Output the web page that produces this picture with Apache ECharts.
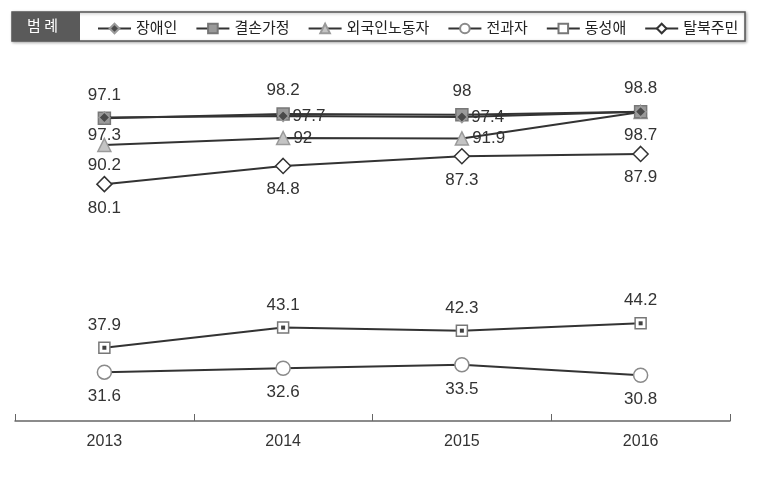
<!DOCTYPE html>
<html><head><meta charset="utf-8">
<script src="https://cdn.jsdelivr.net/npm/echarts@6/dist/echarts.min.js"></script>
<style>html,body{margin:0;padding:0;background:#fff}#c{width:762px;height:478px}</style>
</head><body><div id="c"></div>
<script>
const years = ['2013','2014','2015','2016'];
const seriesNames = ['장애인','결손가정','외국인노동자','전과자','동성애','탈북주민'];
const disabled = [97.3, 97.7, 97.4, 98.8];
const brokenFamily = [97.1, 98.2, 98.0, 98.8];
const foreignWorker = [90.2, 92.0, 91.9, 98.7];
const exConvict = [31.6, 32.6, 33.5, 30.8];
const homosexual = [37.9, 43.1, 42.3, 44.2];
const defector = [80.1, 84.8, 87.3, 87.9];

const values = [disabled, brokenFamily, foreignWorker, exConvict, homosexual, defector];
// label placement per point (style only)
const labelPos = [
  ['bottom','right','right',null],
  ['top','top','top','top'],
  ['bottom','right','right','bottom'],
  ['bottom','bottom','bottom','bottom'],
  ['top','top','top','top'],
  ['bottom','bottom','bottom','bottom']
];
const labelDist = [
  [3,3,3,0],[8,8,8,8],[5,3,3,8],[8,8,8,8],[8,8,8,8],[7,7,7,7]
];
const symbols = ['diamond','rect','triangle','circle','rect','diamond'];
const symbolSizes = [11,12,13,14,11,15];
const fills = ['#4a4a4a','#9a9a9a','#c4c4c4','#ffffff','#ffffff','#ffffff'];
const borders = ['#9a9a9a','#777777','#9a9a9a','#8a8a8a','#777777','#333333'];

const font = '"Liberation Sans", "Noto Sans CJK KR", sans-serif';
const lineSeries = seriesNames.map((name, i) => ({
  name: name,
  type: 'line',
  z: 10 - i,
  symbol: symbols[i],
  symbolSize: symbolSizes[i],
  lineStyle: {color: '#333', width: 2},
  itemStyle: {color: fills[i], borderColor: borders[i], borderWidth: 1.5},
  data: values[i].map((v, j) => ({
    value: v,
    label: labelPos[i][j] ? {show: true, position: labelPos[i][j], distance: labelDist[i][j]} : {show: false}
  })),
  label: {color: '#333', fontSize: 17, fontFamily: font},
  emphasis: {disabled: true}
}));
lineSeries.push({
  name: '동성애-dot', type: 'scatter', symbol: 'rect', symbolSize: 4, z: 20,
  itemStyle: {color: '#111'}, data: homosexual, silent: true
});

const chart = echarts.init(document.getElementById('c'));
chart.setOption({
  animation: false,
  backgroundColor: '#fff',
  grid: {left: 15, right: 32, top: 107, bottom: 57},
  xAxis: {
    type: 'category', data: years, boundaryGap: true,
    axisLine: {lineStyle: {color: '#666', width: 1.5}},
    axisTick: {show: true, inside: true, length: 7, lineStyle: {color: '#666'}},
    axisLabel: {color: '#333', fontSize: 16, fontFamily: font, margin: 13}
  },
  yAxis: {type: 'value', min: 19, max: 100, show: false, splitLine: {show: false}},
  legend: {
    data: seriesNames, left: 92, top: 16, itemGap: 18, itemWidth: 33, itemHeight: 12,
    textStyle: {color: '#222', fontSize: 15, fontFamily: font}, selectedMode: false
  },
  graphic: [
    {type: 'rect', shape: {x: 12, y: 12, width: 733, height: 29}, style: {fill: '#fff', stroke: '#555', lineWidth: 1.5, shadowBlur: 3, shadowColor: 'rgba(0,0,0,0.3)', shadowOffsetX: 1, shadowOffsetY: 1}, z: -1},
    {type: 'rect', shape: {x: 12, y: 12, width: 68, height: 29}, style: {fill: '#5a5a5a'}, z: 0},
    {type: 'text', left: 27, top: 18, style: {text: '범 례', fill: '#fff', font: '15px "Noto Sans CJK KR", sans-serif'}, z: 1}
  ],
  series: lineSeries
});
</script></body></html>
